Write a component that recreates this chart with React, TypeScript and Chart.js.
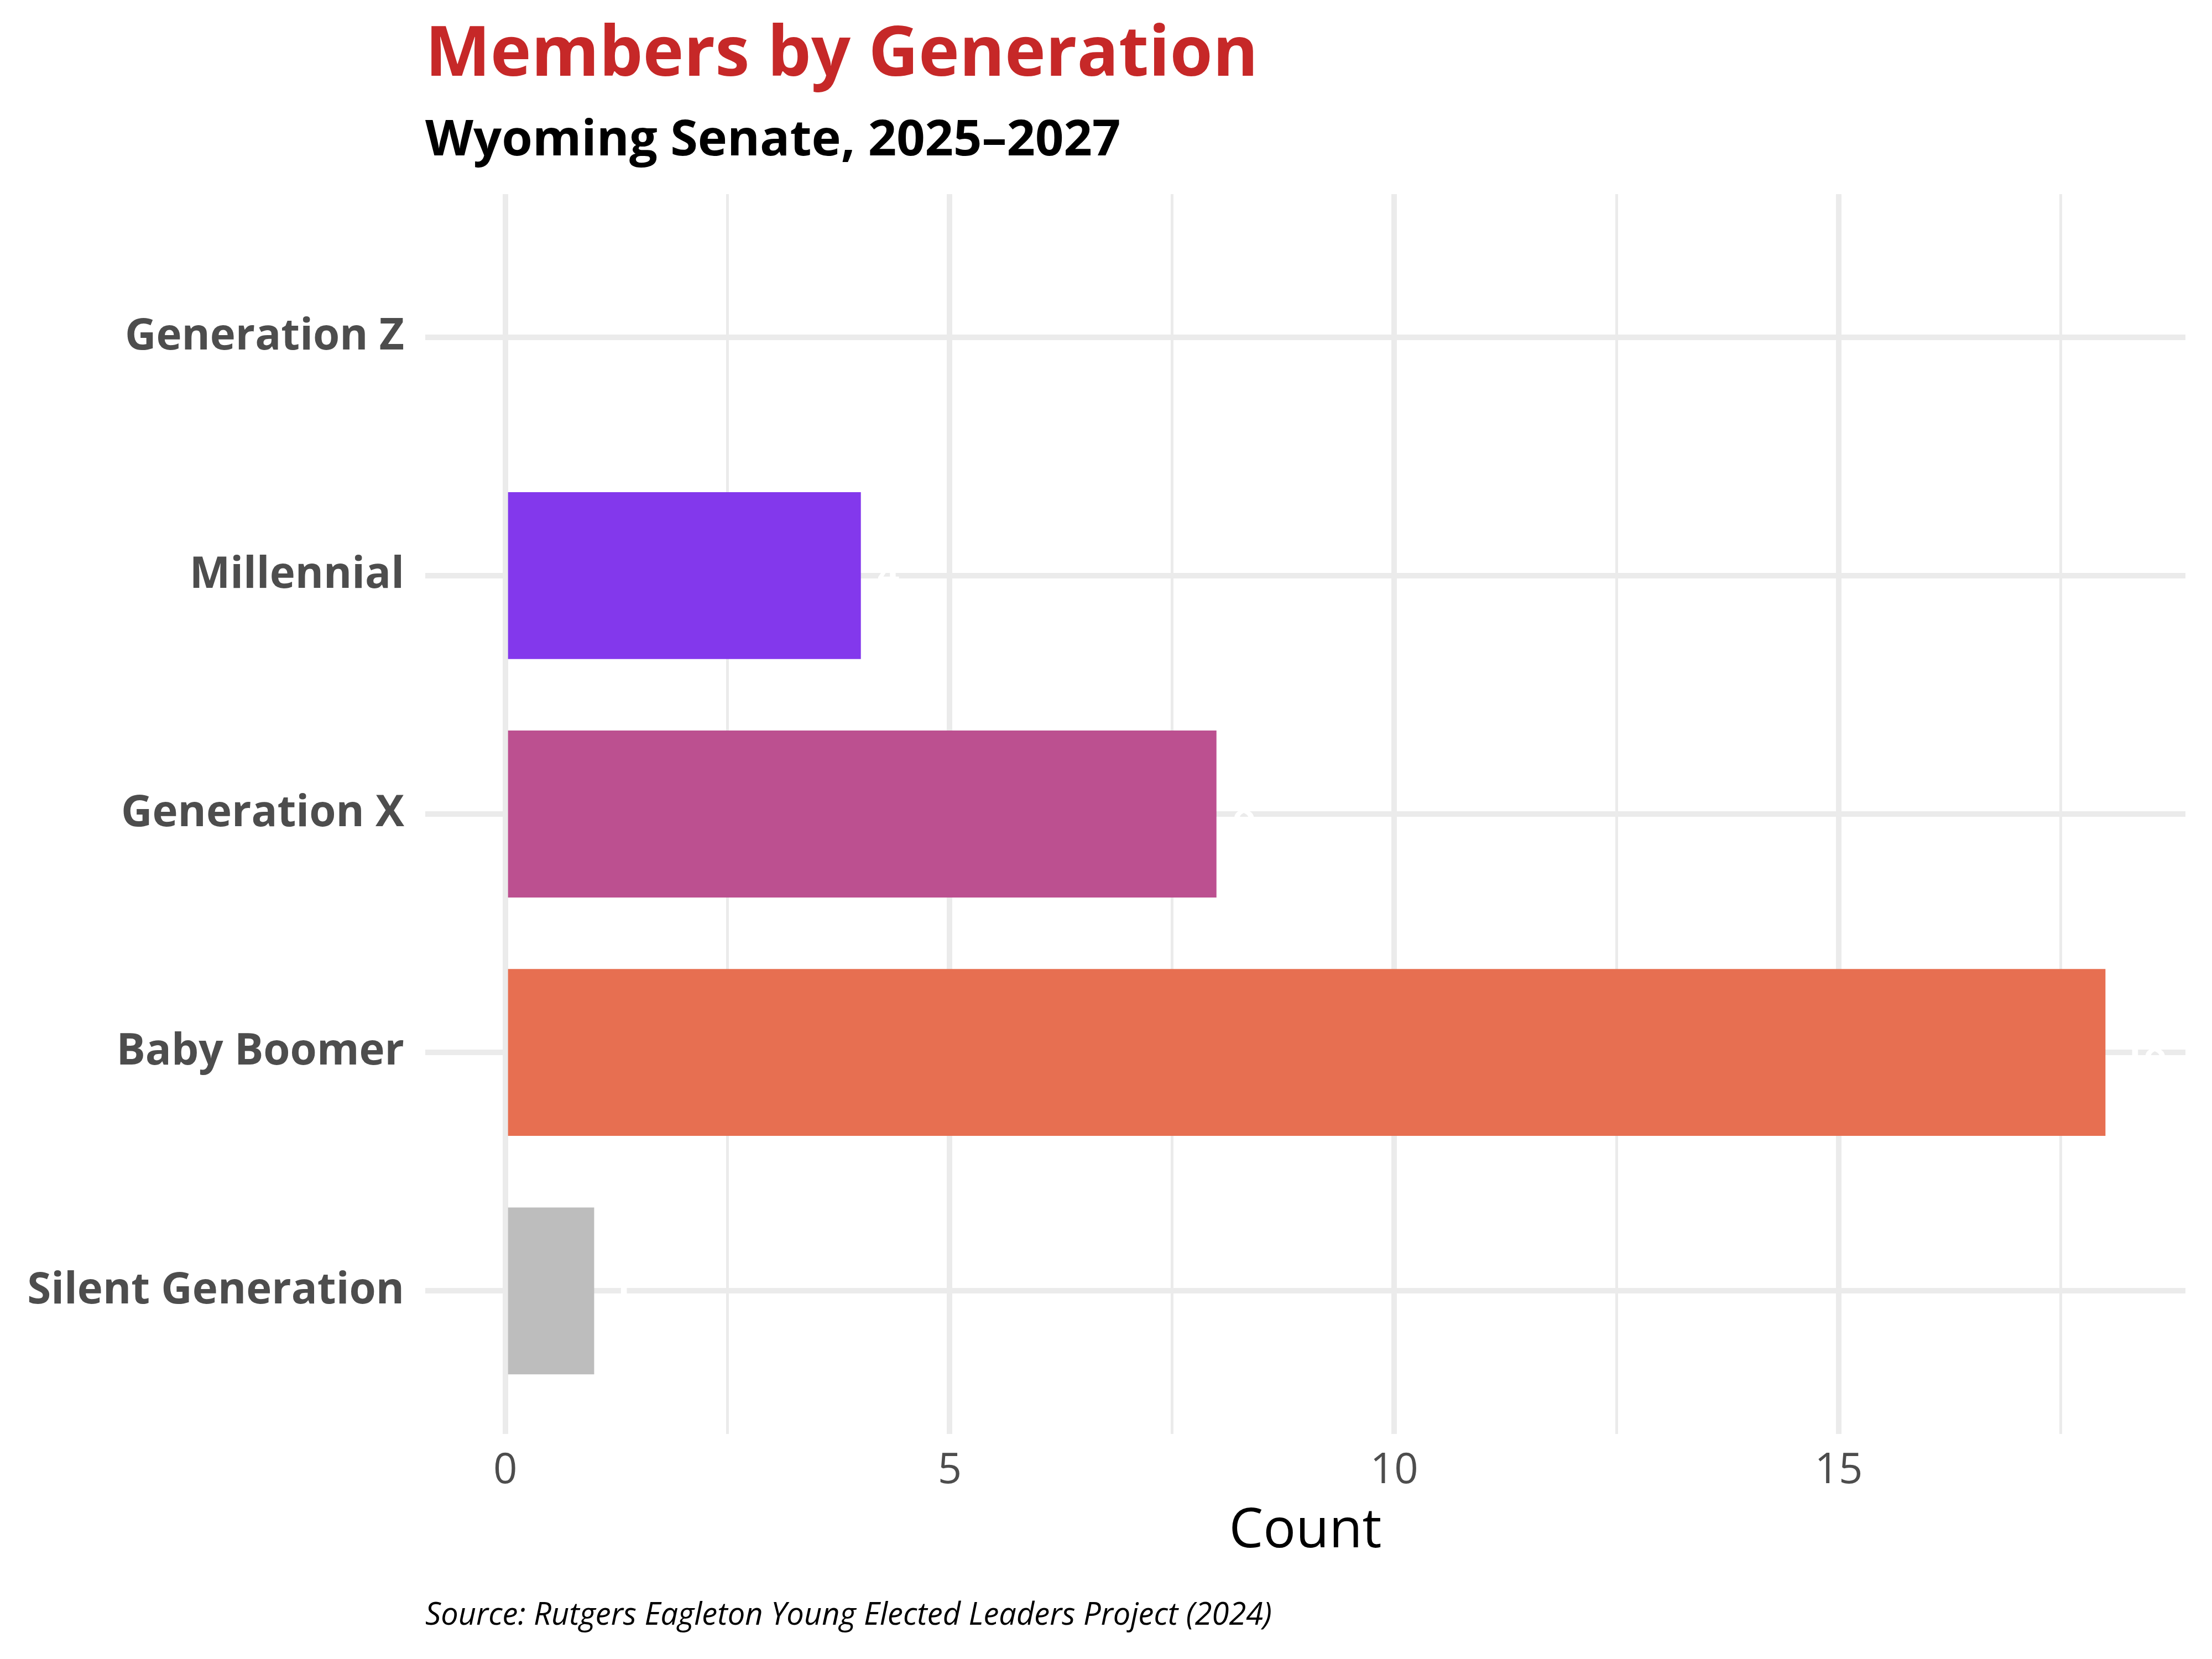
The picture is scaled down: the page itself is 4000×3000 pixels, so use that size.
import { useEffect, useRef } from 'react';
import { Chart, registerables } from 'chart.js';

Chart.register(...registerables);

// categories from top to bottom
const generations = ['Generation Z', 'Millennial', 'Generation X', 'Baby Boomer', 'Silent Generation'];
const memberCounts = [0, 4, 8, 18, 1];
const barColors = ['#3A86FF', '#8338EC', '#BC5090', '#E76F51', '#BDBDBD'];
const xTickValues = [0, 2.5, 5, 7.5, 10, 12.5, 15, 17.5];

const titleText = 'Members by Generation';
const subtitleText = 'Wyoming Senate, 2025–2027';
const captionText = 'Source: Rutgers Eagleton Young Elected Leaders Project (2024)';

const FONT = '"Open Sans", "Noto Sans", sans-serif';

const textPlugin = {
  id: 'textPlugin',
  afterDatasetsDraw(chart: any) {
    const { ctx } = chart;
    const meta = chart.getDatasetMeta(0);
    ctx.save();
    ctx.fillStyle = '#FFFFFF';
    ctx.font = `bold 70px ${FONT}`;
    ctx.textAlign = 'left';
    ctx.textBaseline = 'middle';
    meta.data.forEach((bar: any, i: number) => {
      if (memberCounts[i] > 0) {
        ctx.fillText(String(memberCounts[i]), bar.x + 30, bar.y);
      }
    });
    ctx.restore();
  },
  afterDraw(chart: any) {
    const { ctx, chartArea } = chart;
    const left = chartArea.left;
    ctx.save();
    ctx.textAlign = 'left';
    ctx.textBaseline = 'alphabetic';
    ctx.fillStyle = '#C62828';
    ctx.font = `bold 125px ${FONT}`;
    ctx.fillText(titleText, left, 137);
    ctx.fillStyle = '#000000';
    ctx.font = `bold 90px ${FONT}`;
    ctx.fillText(subtitleText, left, 281);
    ctx.font = `italic 56px ${FONT}`;
    ctx.fillText(captionText, left, 2938);
    ctx.restore();
  },
};

export default function App() {
  const chartRef = useRef<HTMLCanvasElement>(null);
  const chartInstance = useRef<Chart | null>(null);

  useEffect(() => {
    if (!chartRef.current) return;
    const ctx = chartRef.current.getContext('2d');
    if (!ctx) return;

    chartInstance.current = new Chart(ctx, {
      type: 'bar',
      data: {
        datasets: [
          {
            data: memberCounts.map((v, i) => ({ x: v, y: i })),
            backgroundColor: barColors,
            borderWidth: 0,
            barPercentage: 1,
            categoryPercentage: 0.7,
          },
        ],
      },
      options: {
        indexAxis: 'y',
        responsive: false,
        animation: false,
        devicePixelRatio: 1,
        layout: { padding: { top: 351, bottom: 171, left: 0, right: 48 } },
        plugins: {
          legend: { display: false },
          tooltip: { enabled: false },
        },
        scales: {
          x: {
            type: 'linear',
            min: -0.9,
            max: 18.9,
            afterBuildTicks: (scale: any) => {
              scale.ticks = xTickValues.map(v => ({ value: v }));
            },
            afterFit: (scale: any) => {
              scale.height = 236;
            },
            grid: {
              color: '#EBEBEB',
              lineWidth: (c: any) => (c.tick && c.tick.value % 5 === 0 ? 10 : 5),
              drawTicks: false,
            },
            border: { display: false },
            ticks: {
              autoSkip: false,
              maxRotation: 0,
              padding: 22,
              color: '#4D4D4D',
              font: { family: FONT, size: 76 },
              callback: (v: any) => (Number(v) % 5 === 0 ? String(v) : ''),
            },
            title: {
              display: true,
              text: 'Count',
              color: '#000000',
              padding: 0,
              font: { family: FONT, size: 98 },
            },
          },
          y: {
            type: 'linear',
            min: -0.6,
            max: 4.6,
            reverse: true,
            offset: false,
            afterBuildTicks: (scale: any) => {
              scale.ticks = generations.map((_, i) => ({ value: i }));
            },
            afterFit: (scale: any) => {
              scale.width = 769;
            },
            grid: {
              color: '#EBEBEB',
              lineWidth: 10,
              drawTicks: false,
              offset: false,
            },
            border: { display: false },
            ticks: {
              autoSkip: false,
              padding: 38,
              color: '#4D4D4D',
              font: { family: FONT, size: 78, weight: 'bold' },
              callback: (v: any) => generations[Number(v)] ?? '',
            },
          },
        },
      },
      plugins: [textPlugin],
    });

    return () => {
      if (chartInstance.current) {
        chartInstance.current.destroy();
        chartInstance.current = null;
      }
    };
  }, []);

  return (
    <div style={{ position: 'absolute', left: 0, top: 0, width: '4000px', height: '3000px', background: 'white' }}>
      <canvas ref={chartRef} width={4000} height={3000} style={{ width: '4000px', height: '3000px' }} />
    </div>
  );
}
